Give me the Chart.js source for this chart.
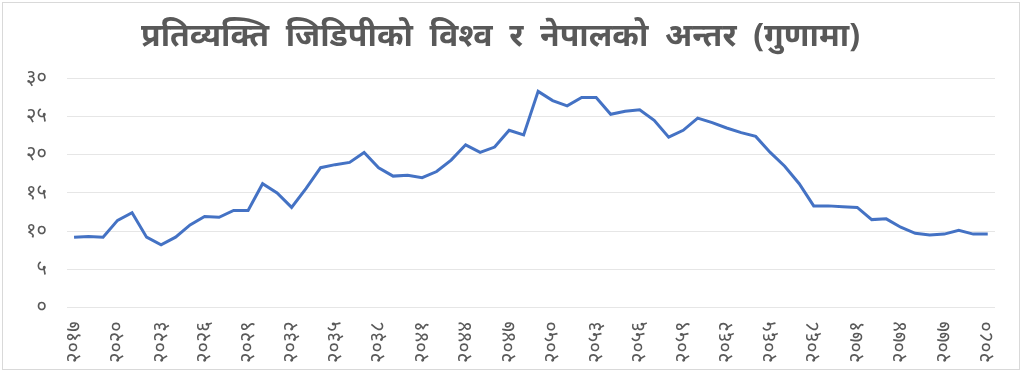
<!DOCTYPE html>
<html>
<head>
<meta charset="utf-8">
<script src="https://cdn.jsdelivr.net/npm/chart.js@4.4.1/dist/chart.umd.min.js"></script>
<style>
  html, body { margin: 0; padding: 0; background: #fff; }
  #wrap {
    position: absolute; left: 2px; top: 2px;
    width: 1018px; height: 368px;
    border: 1px solid #d9d9d9;
    box-sizing: border-box;
  }
</style>
</head>
<body>
<div id="wrap"><canvas id="gdpGapChart"></canvas></div>
<script>
// वर्ष (वि.सं.)
const years = [
    '२०१७', '२०१८', '२०१९', '२०२०', '२०२१', '२०२२', '२०२३', '२०२४', '२०२५', '२०२६',
    '२०२७', '२०२८', '२०२९', '२०३०', '२०३१', '२०३२', '२०३३', '२०३४', '२०३५', '२०३६',
    '२०३७', '२०३८', '२०३९', '२०४०', '२०४१', '२०४२', '२०४३', '२०४४', '२०४५', '२०४६',
    '२०४७', '२०४८', '२०४९', '२०५०', '२०५१', '२०५२', '२०५३', '२०५४', '२०५५', '२०५६',
    '२०५७', '२०५८', '२०५९', '२०६०', '२०६१', '२०६२', '२०६३', '२०६४', '२०६५', '२०६६',
    '२०६७', '२०६८', '२०६९', '२०७०', '२०७१', '२०७२', '२०७३', '२०७४', '२०७५', '२०७६',
    '२०७७', '२०७८', '२०७९', '२०८०'
];

// विश्व र नेपालको प्रतिव्यक्ति जिडिपीको अनुपात (गुणा)
const gapRatio = [
    9.2, 9.3, 9.2, 11.4, 12.4, 9.2, 8.2, 9.2, 10.8, 11.9,
    11.8, 12.7, 12.7, 16.2, 15.0, 13.1, 15.6, 18.3, 18.7, 19.0,
    20.3, 18.3, 17.2, 17.3, 17.0, 17.8, 19.3, 21.3, 20.3, 21.0,
    23.2, 22.6, 28.3, 27.1, 26.4, 27.5, 27.5, 25.3, 25.7, 25.9,
    24.5, 22.3, 23.2, 24.8, 24.2, 23.5, 22.9, 22.4, 20.3, 18.5,
    16.2, 13.3, 13.3, 13.2, 13.1, 11.5, 11.6, 10.5, 9.7, 9.5,
    9.6, 10.1, 9.6, 9.6
];

const yTicks = ['०', '५', '१०', '१५', '२०', '२५', '३०'];

const textColor = '#595959';
const fontStack = '"Noto Sans", "Noto Sans Devanagari", "Lohit Devanagari", sans-serif';

const ctx = document.getElementById('gdpGapChart').getContext('2d');

new Chart(ctx, {
    type: 'line',
    data: {
        labels: years,
        datasets: [{
            label: 'अन्तर',
            data: gapRatio,
            borderColor: '#4472C4',
            borderWidth: 3,
            pointRadius: 0,
            tension: 0,
            fill: false
        }]
    },
    options: {
        responsive: true,
        maintainAspectRatio: false,
        animation: false,
        layout: {
            padding: { left: 3, right: 24, top: 0, bottom: 0 }
        },
        scales: {
            x: {
                offset: true,
                grid: { display: false },
                border: { display: false },
                ticks: {
                    autoSkip: false,
                    minRotation: 90,
                    maxRotation: 90,
                    padding: 6,
                    color: textColor,
                    font: { family: fontStack, size: 20 },
                    callback: function (value, index) {
                        return index % 3 === 0 ? years[index] : null;
                    }
                }
            },
            y: {
                min: 0,
                max: 30,
                border: { display: false },
                grid: { color: '#e6e6e6', lineWidth: 1, drawTicks: false },
                ticks: {
                    stepSize: 5,
                    padding: 20,
                    color: textColor,
                    font: { family: fontStack, size: 20 },
                    callback: function (value) {
                        return yTicks[value / 5];
                    }
                }
            }
        },
        plugins: {
            legend: { display: false },
            tooltip: { enabled: false },
            title: {
                display: true,
                text: 'प्रतिव्यक्ति  जिडिपीको  विश्व  र  नेपालको  अन्तर  (गुणामा)',
                color: textColor,
                font: { family: fontStack, size: 32, weight: 'bold' },
                padding: { top: 15, bottom: 22 }
            }
        }
    }
});
</script>
</body>
</html>
